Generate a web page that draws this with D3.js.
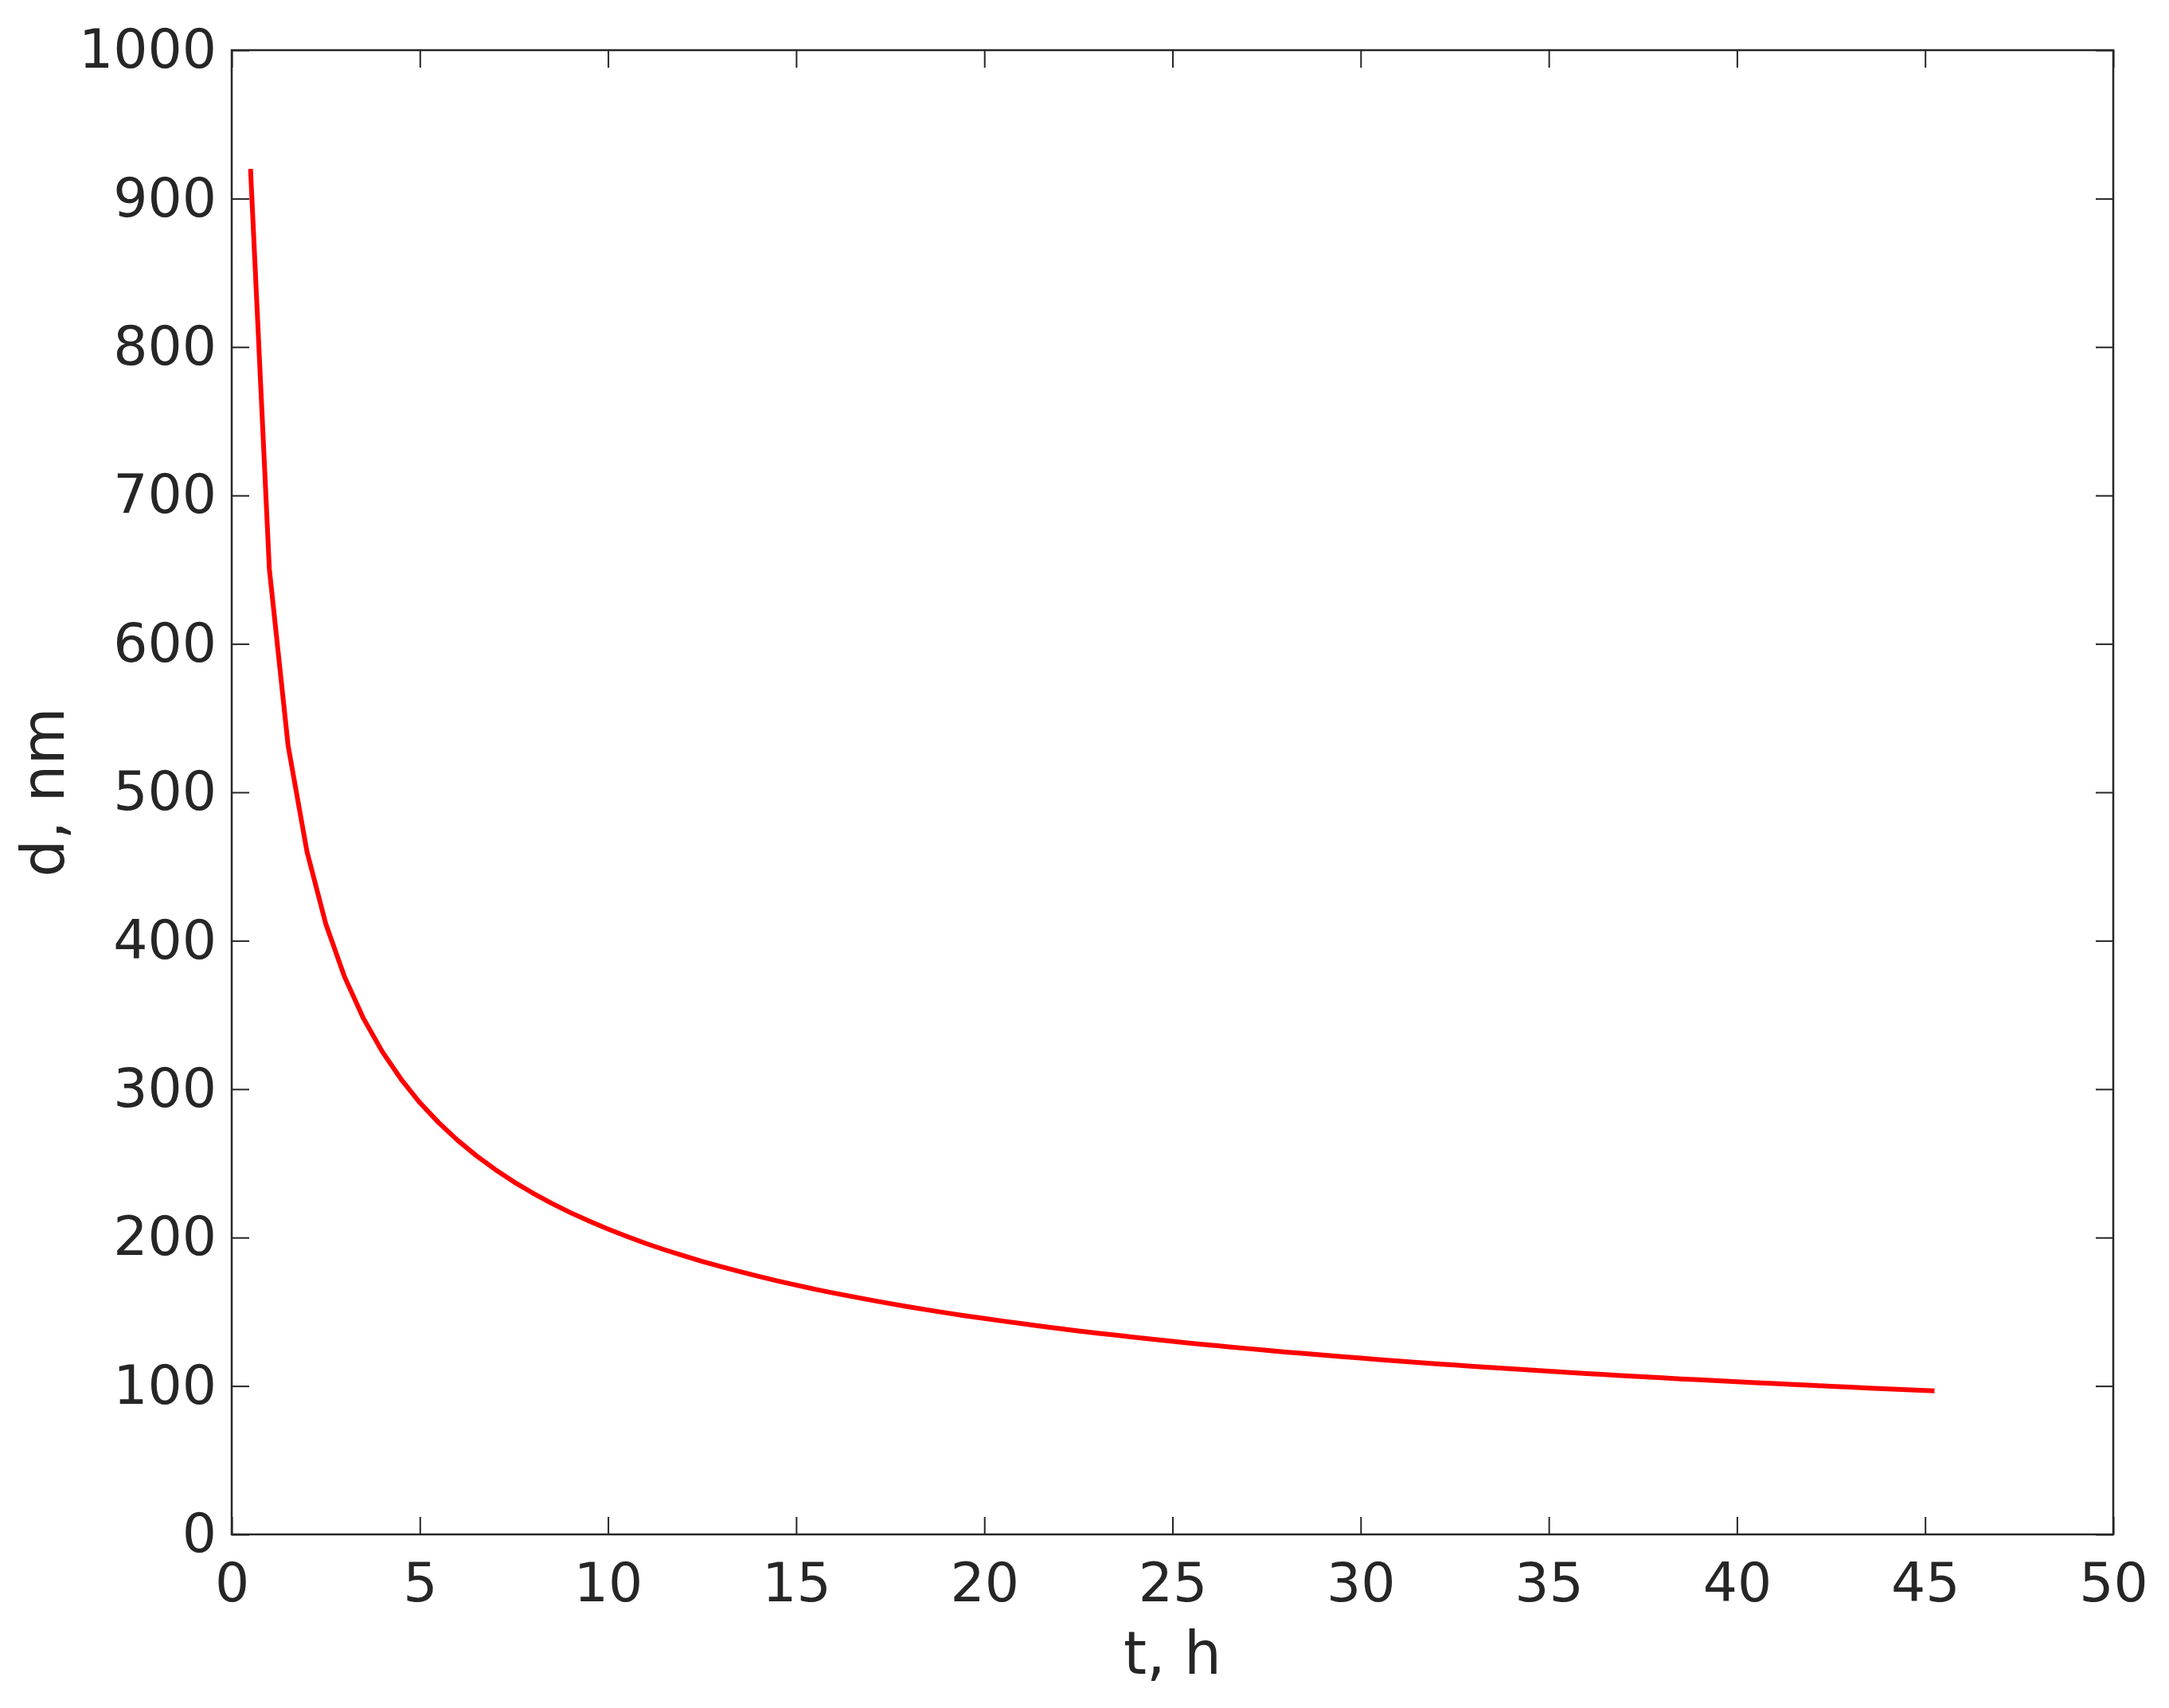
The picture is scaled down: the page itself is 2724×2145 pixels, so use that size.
<!DOCTYPE html>
<html>
<head>
<meta charset="utf-8">
<script src="https://cdn.jsdelivr.net/npm/d3@7"></script>
<style>
  html, body { margin: 0; padding: 0; background: #fff; }
  svg { display: block; }
  .axis text { font-family: 'DejaVu Sans', sans-serif; font-size: 68px; fill: #262626; }
  .axis line { stroke: #262626; stroke-width: 2; }
  .label { font-family: 'DejaVu Sans', sans-serif; font-size: 74px; fill: #262626; }
</style>
</head>
<body>
<svg id="chart" width="2724" height="2145"></svg>
<script>
  // time, h
  const tHours = [
    0.5, 1, 1.5, 2, 2.5, 3, 3.5, 4, 4.5, 5,
    5.5, 6, 6.5, 7, 7.5, 8, 8.5, 9, 9.5, 10,
    10.5, 11, 11.5, 12, 12.5, 13, 13.5, 14, 14.5, 15,
    15.5, 16, 16.5, 17, 17.5, 18, 18.5, 19, 19.5, 20,
    20.5, 21, 21.5, 22, 22.5, 23, 23.5, 24, 24.5, 25,
    25.5, 26, 26.5, 27, 27.5, 28, 28.5, 29, 29.5, 30,
    30.5, 31, 31.5, 32, 32.5, 33, 33.5, 34, 34.5, 35,
    35.5, 36, 36.5, 37, 37.5, 38, 38.5, 39, 39.5, 40,
    40.5, 41, 41.5, 42, 42.5, 43, 43.5, 44, 44.5, 45,
    45.25
  ];
  // d, nm
  const dNm = [
    920, 650.5, 531.2, 460, 411.4, 375.6, 347.7, 325.3, 306.7, 290.9,
    277.4, 265.6, 255.2, 245.9, 237.5, 230, 223.1, 216.8, 211.1, 205.7,
    200.8, 196.1, 191.8, 187.8, 184, 180.4, 177.1, 173.9, 170.8, 168.0,
    165.2, 162.6, 160.2, 157.8, 155.5, 153.3, 151.2, 149.2, 147.3, 145.5,
    143.7, 142.0, 140.3, 138.7, 137.1, 135.6, 134.2, 132.8, 131.4, 130.1,
    128.8, 127.6, 126.4, 125.2, 124.1, 122.9, 121.9, 120.8, 119.8, 118.8,
    117.8, 116.8, 115.9, 115, 114.1, 113.2, 112.4, 111.6, 110.8, 110.0,
    109.2, 108.4, 107.7, 106.9, 106.2, 105.5, 104.8, 104.2, 103.5, 102.9,
    102.2, 101.6, 101.0, 100.4, 99.8, 99.2, 98.6, 98.1, 97.5, 97.0,
    96.7
  ];
  const xTicks = [0, 5, 10, 15, 20, 25, 30, 35, 40, 45, 50];
  const yTicks = [0, 100, 200, 300, 400, 500, 600, 700, 800, 900, 1000];

  const svg = d3.select('#chart');
  const plotL = 291, plotR = 2654, plotT = 63, plotB = 1927;
  const TICK = 22;

  const x = d3.scaleLinear().domain([0, 50]).range([plotL, plotR]);
  const y = d3.scaleLinear().domain([0, 1000]).range([plotB, plotT]);

  svg.append('rect').attr('width', 2724).attr('height', 2145).attr('fill', '#fff');

  // bottom + left axes with labels, ticks pointing inward
  svg.append('g').attr('class', 'axis')
    .attr('transform', `translate(0,${plotB})`)
    .call(d3.axisBottom(x).tickValues(xTicks).tickSize(-TICK).tickPadding(36).tickFormat(d3.format('d')))
    .call(g => g.select('.domain').remove());

  svg.append('g').attr('class', 'axis')
    .attr('transform', `translate(${plotL},0)`)
    .call(d3.axisLeft(y).tickValues(yTicks).tickSize(-TICK).tickPadding(19).tickFormat(d3.format('d')))
    .call(g => g.select('.domain').remove());

  // mirrored ticks on top + right
  svg.append('g').attr('class', 'axis')
    .attr('transform', `translate(0,${plotT})`)
    .call(d3.axisTop(x).tickValues(xTicks).tickSize(-TICK).tickFormat(''))
    .call(g => g.select('.domain').remove());

  svg.append('g').attr('class', 'axis')
    .attr('transform', `translate(${plotR},0)`)
    .call(d3.axisRight(y).tickValues(yTicks).tickSize(-TICK).tickFormat(''))
    .call(g => g.select('.domain').remove());

  // box
  svg.append('rect')
    .attr('x', plotL).attr('y', plotT)
    .attr('width', plotR - plotL).attr('height', plotB - plotT)
    .attr('fill', 'none').attr('stroke', '#262626').attr('stroke-width', 2.5);

  const line = d3.line()
    .x((d, i) => x(tHours[i]))
    .y(d => y(d));

  svg.append('path')
    .datum(dNm)
    .attr('d', line)
    .attr('fill', 'none')
    .attr('stroke', '#ff0000')
    .attr('stroke-width', 6)
    .attr('stroke-linejoin', 'round');

  svg.append('text').attr('class', 'label')
    .attr('x', (plotL + plotR) / 2).attr('y', 2102)
    .attr('text-anchor', 'middle')
    .text('t, h');

  svg.append('text').attr('class', 'label')
    .attr('transform', `translate(80,${(plotT + plotB) / 2}) rotate(-90)`)
    .attr('text-anchor', 'middle')
    .text('d, nm');
</script>
</body>
</html>
